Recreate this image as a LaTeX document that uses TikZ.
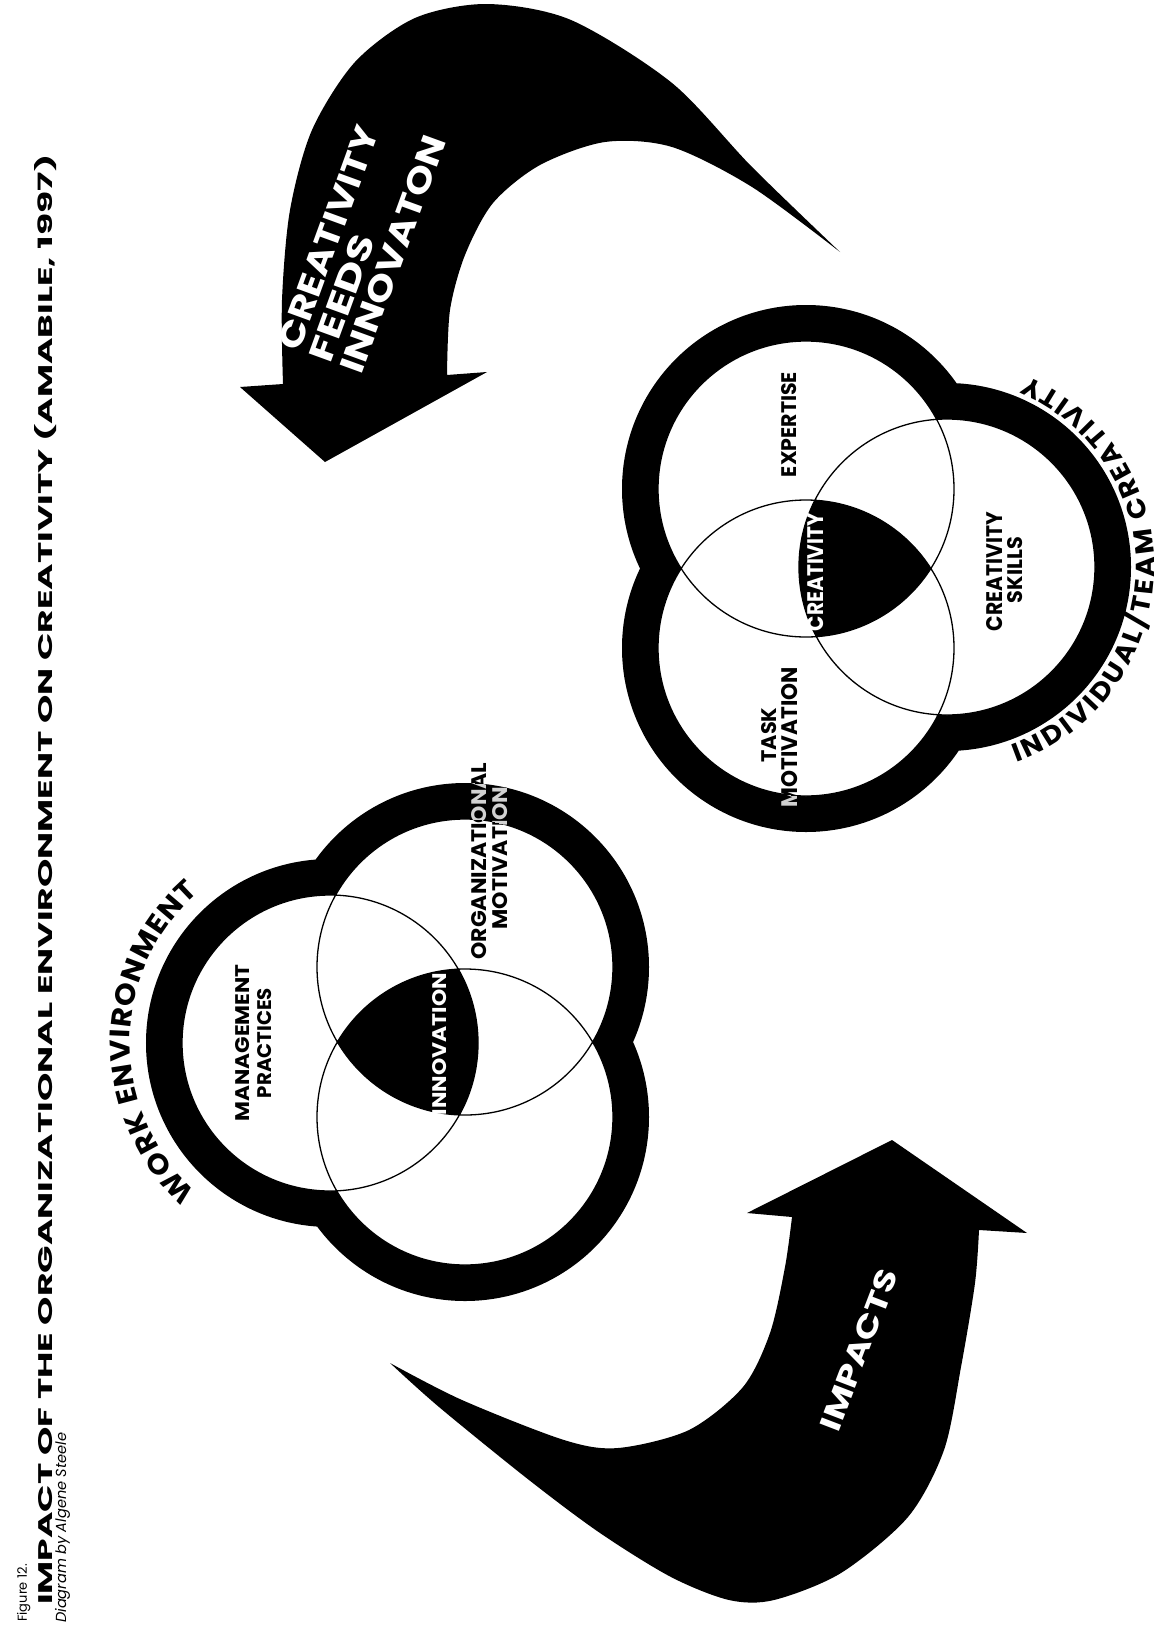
\documentclass[tikz,border=0pt]{standalone}
\usepackage{fontspec}
\usepackage{graphicx}
\setmainfont{Poppins}
\newfontfamily\arcfont{Poppins}[FakeStretch=1.08]
\usetikzlibrary{calc,decorations.text}

% bold caps label squeezed into a given box (width x cap height)
\newcommand\fitlbl[3]{\resizebox{#1pt}{#2pt}{\fontsize{20}{20}\selectfont\bfseries #3}}

\begin{document}
\begin{tikzpicture}[x=1pt,y=-1pt,
  ringline/.style={line width=72pt,draw=black},
  thinline/.style={line width=1.3pt,draw=black},
  lab/.style={inner sep=0pt,rotate=90,anchor=center},
  wlab/.style={lab,text=white},
  glab/.style={lab,text=black!18},
  arrowfill/.style={fill=black},
  arrowtext/.style={text=white,inner sep=0pt},
]
\useasboundingbox (0,0) rectangle (1160,1625);
\fill[white] (0,0) rectangle (1160,1625);

\def\rad{148}

% ---------- caption ----------
\node[inner sep=0pt,rotate=90,anchor=base west] (fig) at (27,1622)
  {\fontsize{13}{13}\selectfont Figure 12.};
\node[inner sep=0pt,rotate=90,anchor=base west] (title) at (52,1605)
  {\resizebox{1450pt}{18pt}{\fontsize{20}{20}\selectfont\bfseries IMPACT OF THE ORGANIZATIONAL ENVIRONMENT ON CREATIVITY (AMABILE, 1997)}};
\node[inner sep=0pt,rotate=90,anchor=base west] (credit) at (66,1623)
  {\resizebox{190pt}{!}{\fontsize{12}{12}\selectfont\itshape Diagram by Algene Steele}};

% ---------- curved arrow: creativity feeds innovation ----------
\fill[arrowfill] (283,384) -- (240,387) -- (325,462) -- (487,372) -- (447,375)
  -- plot[smooth] coordinates {(447,375) (450,310) (465,255) (493,203) (540,165) (605,142) (672,147) (752,187) (840,252)}
  -- plot[smooth] coordinates {(840,252) (752,167) (672,83) (571,20) (487,4) (415,18) (355,62) (312,130) (290,210) (282,300) (283,384)}
  -- cycle;
\node[arrowtext,rotate=70] (cf1) at (328,238) {\fitlbl{235}{24}{CREATIVITY}};
\node[arrowtext,rotate=70] (cf2) at (342,298) {\fitlbl{132}{24}{FEEDS}};
\node[arrowtext,rotate=70] (cf3) at (393,254) {\fitlbl{250}{24}{INNOVATON}};

% ---------- curved arrow: impacts ----------
\fill[arrowfill] (792,1217) -- (747,1213) -- (892,1140) -- (1027,1233) -- (979,1230)
  -- plot[smooth] coordinates {(979,1230) (975,1283) (961,1367) (944,1450) (908,1517) (841,1573) (774,1600) (729,1600) (671,1577) (600,1533) (529,1480) (439,1407) (390,1363)}
  -- plot[smooth] coordinates {(390,1363) (462,1400) (564,1440) (618,1448) (689,1430) (743,1387) (770,1333) (785,1267) (792,1217)}
  -- cycle;
\node[arrowtext,rotate=69] (imp) at (859,1350) {\fitlbl{170}{21}{IMPACTS}};

% ---------- work environment cluster ----------
\coordinate (M) at (330,1043);
\coordinate (O) at (465,967);
\coordinate (R) at (465,1117);
\draw[ringline] (M) circle[radius=\rad] (O) circle[radius=\rad] (R) circle[radius=\rad];
\fill[white] (M) circle[radius=\rad] (O) circle[radius=\rad] (R) circle[radius=\rad];
\begin{scope}
  \clip (M) circle[radius=\rad];
  \clip (O) circle[radius=\rad];
  \fill (R) circle[radius=\rad];
\end{scope}
\draw[thinline] (M) circle[radius=\rad] (O) circle[radius=\rad] (R) circle[radius=\rad];

\node[lab] (mg1) at (243,1043) {\fitlbl{157}{14}{MANAGEMENT}};
\node[lab] (mg2) at (265,1043) {\fitlbl{110}{14}{PRACTICES}};
\node[wlab] (inn) at (440,1044) {\fitlbl{142}{14}{INNOVATION}};
\node[lab] (om1) at (479.5,861) {\fitlbl{197}{15}{ORGANIZATIONAL}};
\node[lab] (om2) at (500.5,858) {\fitlbl{143}{15}{MOTIVATION}};
\begin{scope}[even odd rule]
  \clip (O) circle[radius=184] (O) circle[radius=\rad];
  \node[glab] at (479.5,861) {\fitlbl{197}{15}{ORGANIZATIONAL}};
  \node[glab] at (500.5,858) {\fitlbl{143}{15}{MOTIVATION}};
\end{scope}
\path[decorate,decoration={text along path,text align={fit to path},
    text={|\arcfont\fontsize{28}{28}\selectfont\bfseries|WORK ENVIRONMENT}}]
  ($(M)+(-228:200)$) arc[start angle=-228,end angle=-131,radius=200];

% ---------- individual / team creativity cluster ----------
\coordinate (E) at (806,489);
\coordinate (T) at (806,648);
\coordinate (S) at (947,567);
\draw[ringline] (E) circle[radius=\rad] (T) circle[radius=\rad] (S) circle[radius=\rad];
\fill[white] (E) circle[radius=\rad] (T) circle[radius=\rad] (S) circle[radius=\rad];
\begin{scope}
  \clip (E) circle[radius=\rad];
  \clip (T) circle[radius=\rad];
  \fill (S) circle[radius=\rad];
\end{scope}
\draw[thinline] (E) circle[radius=\rad] (T) circle[radius=\rad] (S) circle[radius=\rad];

\node[lab] (exp) at (789.5,424.5) {\fitlbl{105}{15}{EXPERTISE}};
\node[wlab] (cre) at (816,572) {\fitlbl{118}{16}{CREATIVITY}};
\node[lab] (cs1) at (995,571.5) {\fitlbl{119}{16}{CREATIVITY}};
\node[lab] (cs2) at (1015.5,570) {\fitlbl{66}{15}{SKILLS}};
\node[lab] (tm1) at (769.5,735) {\fitlbl{55}{15}{TASK}};
\node[lab] (tm2) at (790,737) {\fitlbl{140}{16}{MOTIVATION}};
\begin{scope}[even odd rule]
  \clip (T) circle[radius=184] (T) circle[radius=\rad];
  \node[glab] at (790,737) {\fitlbl{140}{16}{MOTIVATION}};
\end{scope}
\path[decorate,decoration={text along path,text align={fit to path},
    text={|\arcfont\fontsize{26}{26}\selectfont\bfseries|INDIVIDUAL/TEAM CREATIVITY}}]
  ($(S)+(70.5:207)$) arc[start angle=70.5,end angle=-67,radius=207];

\end{tikzpicture}
\end{document}
